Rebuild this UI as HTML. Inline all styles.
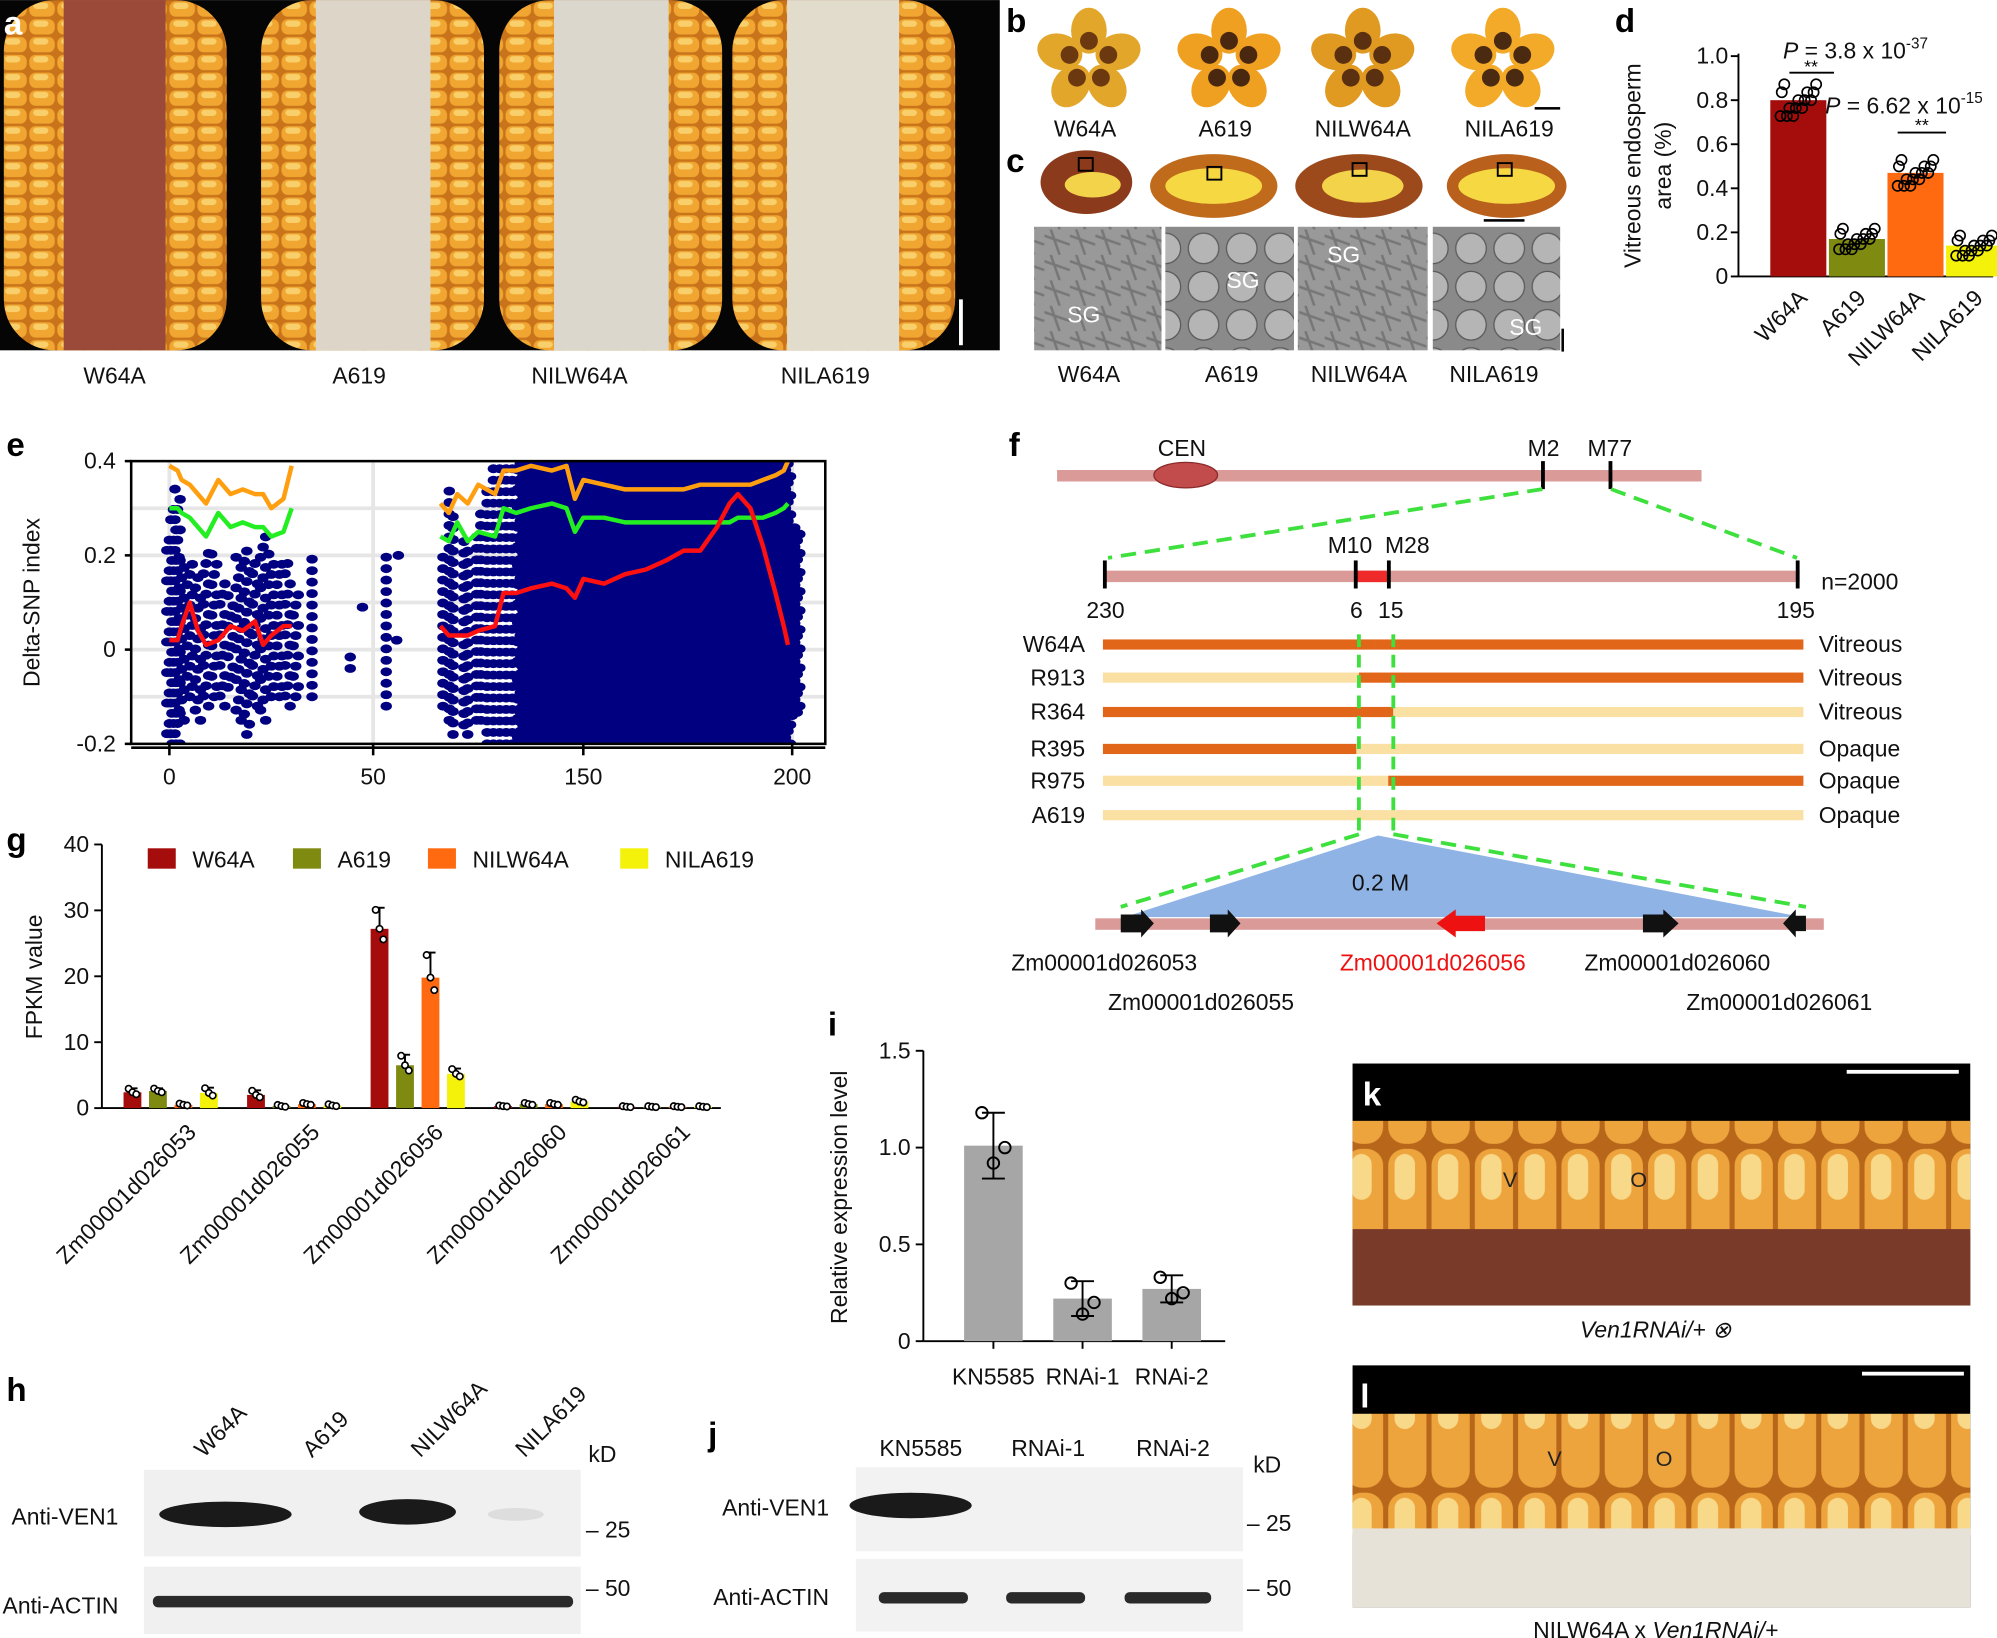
<!DOCTYPE html>
<html><head><meta charset="utf-8">
<style>
html,body{margin:0;padding:0;background:#fff;}
svg{display:block;font-family:"Liberation Sans",Arial,sans-serif;}
.lbl{font-size:18px;fill:#111;}
.pl{font-size:26px;font-weight:bold;fill:#000;}
</style></head>
<body>
<svg id="fig" width="1997" height="1638" viewBox="0 0 1568 1286" xmlns="http://www.w3.org/2000/svg">
<defs>
<pattern id="kern" width="22" height="14" patternUnits="userSpaceOnUse">
<rect width="22" height="14" fill="#c9741a"/><rect x="1" y="1" width="20" height="12" rx="5" fill="#f0a630"/><rect x="4" y="2" width="12" height="5" rx="3" fill="#f8cf6a"/></pattern>
<pattern id="kern2" width="34" height="90" patternUnits="userSpaceOnUse">
<rect width="34" height="90" fill="#b8661a"/><rect x="2" y="2" width="30" height="86" rx="13" fill="#eea43c"/><rect x="7" y="6" width="16" height="36" rx="8" fill="#f8d98a"/></pattern>
<pattern id="sem" width="30" height="30" patternUnits="userSpaceOnUse"><rect width="30" height="30" fill="#8a8a8a"/><circle cx="15" cy="15" r="12" fill="#b5b5b5" stroke="#5a5a5a"/></pattern>
<pattern id="sem2" width="20" height="20" patternUnits="userSpaceOnUse"><rect width="20" height="20" fill="#999"/><path d="M0 5 L20 12 M5 0 L12 20" stroke="#777" stroke-width="2"/></pattern>
</defs>

<!-- Panel a -->
<g>
<rect x="0" y="0" width="785" height="275" fill="#050505"/>
<rect x="3" y="0" width="175" height="275" rx="40" fill="url(#kern)"/>
<rect x="50" y="0" width="80" height="275" fill="#9b4a3a"/>
<rect x="205" y="0" width="175" height="275" rx="40" fill="url(#kern)"/>
<rect x="248" y="0" width="90" height="275" fill="#ddd6c8"/>
<rect x="392" y="0" width="175" height="275" rx="40" fill="url(#kern)"/>
<rect x="435" y="0" width="90" height="275" fill="#dcd7cc"/>
<rect x="575" y="0" width="175" height="275" rx="40" fill="url(#kern)"/>
<rect x="618" y="0" width="88" height="275" fill="#e2dccd"/>
<rect x="753" y="235" width="3" height="36" fill="#fff"/>
<text x="3" y="27" class="pl" style="fill:#fff">a</text>
</g>
<g class="lbl">
<text x="90" y="301" text-anchor="middle" class="lbl">W64A</text>
<text x="282" y="301" text-anchor="middle" class="lbl">A619</text>
<text x="455" y="301" text-anchor="middle" class="lbl">NILW64A</text>
<text x="648" y="301" text-anchor="middle" class="lbl">NILA619</text>
</g>

<!-- Panel b -->
<g>
<text x="790" y="25" class="pl">b</text>
<g id="kernels"></g>
<rect x="1205" y="84" width="20" height="2" fill="#000"/>
<text x="852" y="107" text-anchor="middle" class="lbl">W64A</text>
<text x="962" y="107" text-anchor="middle" class="lbl">A619</text>
<text x="1070" y="107" text-anchor="middle" class="lbl">NILW64A</text>
<text x="1185" y="107" text-anchor="middle" class="lbl">NILA619</text>
</g>

<!-- Panel c -->
<g>
<text x="790" y="135" class="pl">c</text>
<ellipse cx="853" cy="143" rx="36" ry="25" fill="#8b3a1c"/><ellipse cx="858" cy="145" rx="22" ry="10" fill="#f3d34a"/>
<ellipse cx="953" cy="146" rx="50" ry="25" fill="#c06a1c"/><ellipse cx="953" cy="146" rx="38" ry="14" fill="#f6d843"/>
<ellipse cx="1067" cy="146" rx="50" ry="25" fill="#9c4a1c"/><ellipse cx="1070" cy="146" rx="32" ry="13" fill="#f3d34a"/>
<ellipse cx="1183" cy="146" rx="47" ry="25" fill="#b8601c"/><ellipse cx="1183" cy="146" rx="38" ry="14" fill="#f6d843"/>
<rect x="847" y="124" width="11" height="10" fill="none" stroke="#000" stroke-width="1.5"/>
<rect x="948" y="131" width="11" height="10" fill="none" stroke="#000" stroke-width="1.5"/>
<rect x="1062" y="128" width="11" height="10" fill="none" stroke="#000" stroke-width="1.5"/>
<rect x="1176" y="128" width="11" height="10" fill="none" stroke="#000" stroke-width="1.5"/>
<rect x="1165" y="172" width="32" height="2" fill="#000"/>
<rect x="812" y="178" width="100" height="97" fill="url(#sem2)"/>
<rect x="915" y="178" width="101" height="97" fill="url(#sem)"/>
<rect x="1019" y="178" width="102" height="97" fill="url(#sem2)"/>
<rect x="1125" y="178" width="100" height="97" fill="url(#sem)"/>
<rect x="1226" y="258" width="2" height="18" fill="#000"/>
<text x="838" y="253" fill="#fff" font-size="18">SG</text>
<text x="963" y="226" fill="#fff" font-size="18">SG</text>
<text x="1042" y="206" fill="#fff" font-size="18">SG</text>
<text x="1185" y="263" fill="#fff" font-size="18">SG</text>
<text x="855" y="300" text-anchor="middle" class="lbl">W64A</text>
<text x="967" y="300" text-anchor="middle" class="lbl">A619</text>
<text x="1067" y="300" text-anchor="middle" class="lbl">NILW64A</text>
<text x="1173" y="300" text-anchor="middle" class="lbl">NILA619</text>
</g>

<!-- Panel d -->
<g id="panelD">
<text x="1268" y="25" class="pl">d</text>
<text transform="translate(1288,130) rotate(-90)" text-anchor="middle" class="lbl">Vitreous endosperm</text>
<text transform="translate(1312,130) rotate(-90)" text-anchor="middle" class="lbl">area (%)</text>
</g>

<!-- Panel e -->
<g id="panelE">
<text x="5" y="358" class="pl">e</text>
<text transform="translate(31,473) rotate(-90)" text-anchor="middle" class="lbl">Delta-SNP index</text>
</g>

<!-- Panel f -->
<g>
<text x="792" y="358" class="pl">f</text>
<rect x="830" y="369" width="506" height="9" fill="#d99a98"/>
<ellipse cx="931" cy="373" rx="25" ry="10" fill="#c24b4b" stroke="#8a2a2a"/>
<text x="928" y="358" text-anchor="middle" class="lbl">CEN</text>
<rect x="1210" y="362" width="3" height="22" fill="#000"/><text x="1212" y="358" text-anchor="middle" class="lbl">M2</text>
<rect x="1263" y="362" width="3" height="22" fill="#000"/><text x="1264" y="358" text-anchor="middle" class="lbl">M77</text>
<line x1="1211" y1="384" x2="870" y2="438" stroke="#3ee03e" stroke-width="3" stroke-dasharray="12,7"/>
<line x1="1265" y1="384" x2="1411" y2="438" stroke="#3ee03e" stroke-width="3" stroke-dasharray="12,7"/>
<rect x="868" y="448" width="545" height="9" fill="#d99a98"/>
<rect x="1065" y="448" width="26" height="9" fill="#ee2a2a"/>
<rect x="866" y="440" width="3" height="22" fill="#000"/><rect x="1063" y="440" width="3" height="22" fill="#000"/>
<rect x="1089" y="440" width="3" height="22" fill="#000"/><rect x="1410" y="440" width="3" height="22" fill="#000"/>
<text x="1060" y="434" text-anchor="middle" class="lbl">M10</text><text x="1105" y="434" text-anchor="middle" class="lbl">M28</text>
<text x="868" y="485" text-anchor="middle" class="lbl">230</text><text x="1065" y="485" text-anchor="middle" class="lbl">6</text>
<text x="1092" y="485" text-anchor="middle" class="lbl">15</text><text x="1410" y="485" text-anchor="middle" class="lbl">195</text>
<text x="1430" y="463" class="lbl">n=2000</text>
<g id="haplo"></g>
<line x1="1067" y1="498" x2="1067" y2="655" stroke="#3ee03e" stroke-width="3" stroke-dasharray="10,6"/>
<line x1="1094" y1="498" x2="1094" y2="655" stroke="#3ee03e" stroke-width="3" stroke-dasharray="10,6"/>
<line x1="1067" y1="655" x2="880" y2="712" stroke="#3ee03e" stroke-width="3" stroke-dasharray="12,7"/>
<line x1="1094" y1="655" x2="1418" y2="712" stroke="#3ee03e" stroke-width="3" stroke-dasharray="12,7"/>
<polygon points="883,720 1082,656 1415,720" fill="#8fb3e4"/>
<text x="1084" y="699" text-anchor="middle" class="lbl">0.2 M</text>
<rect x="860" y="721" width="572" height="9" fill="#d99a98"/>
<polygon points="880,718 896,718 896,714 906,725 896,736 896,732 880,732" fill="#111"/>
<polygon points="950,718 964,718 964,714 974,725 964,736 964,732 950,732" fill="#111"/>
<polygon points="1166,719 1143,719 1143,714 1128,725 1143,736 1143,731 1166,731" fill="#ee1111"/>
<polygon points="1290,718 1306,718 1306,714 1318,725 1306,736 1306,732 1290,732" fill="#111"/>
<polygon points="1418,719 1410,719 1410,714 1400,725 1410,736 1410,731 1418,731" fill="#111"/>
<text x="867" y="762" text-anchor="middle" class="lbl">Zm00001d026053</text>
<text x="1125" y="762" text-anchor="middle" class="lbl" style="fill:#ee1111">Zm00001d026056</text>
<text x="1317" y="762" text-anchor="middle" class="lbl">Zm00001d026060</text>
<text x="943" y="793" text-anchor="middle" class="lbl">Zm00001d026055</text>
<text x="1397" y="793" text-anchor="middle" class="lbl">Zm00001d026061</text>
</g>

<!-- Panel g -->
<g id="panelG">
<text x="5" y="668" class="pl">g</text>
<text transform="translate(33,767) rotate(-90)" text-anchor="middle" class="lbl">FPKM value</text>
</g>

<!-- Panel h -->
<g>
<text x="5" y="1100" class="pl">h</text>
<text transform="translate(160,1145) rotate(-45)" class="lbl">W64A</text>
<text transform="translate(245,1145) rotate(-45)" class="lbl">A619</text>
<text transform="translate(330,1145) rotate(-45)" class="lbl">NILW64A</text>
<text transform="translate(412,1145) rotate(-45)" class="lbl">NILA619</text>
<text x="462" y="1148" class="lbl">kD</text>
<rect x="113" y="1154" width="343" height="68" fill="#f0f0f0"/>
<ellipse cx="177" cy="1189" rx="52" ry="10" fill="#1a1a1a"/>
<ellipse cx="320" cy="1187" rx="38" ry="10" fill="#1a1a1a"/>
<ellipse cx="405" cy="1189" rx="22" ry="5" fill="#ddd"/>
<text x="9" y="1197" class="lbl">Anti-VEN1</text>
<text x="460" y="1207" class="lbl">– 25</text>
<text x="460" y="1253" class="lbl">– 50</text>
<rect x="113" y="1230" width="343" height="53" fill="#f0f0f0"/>
<rect x="120" y="1253" width="330" height="9" rx="4" fill="#2a2a2a"/>
<text x="2" y="1267" class="lbl">Anti-ACTIN</text>
</g>

<!-- Panel i -->
<g id="panelI">
<text x="650" y="813" class="pl">i</text>
<text transform="translate(665,940) rotate(-90)" text-anchor="middle" class="lbl">Relative expression level</text>
</g>

<!-- Panel j -->
<g>
<text x="556" y="1135" class="pl">j</text>
<text x="723" y="1143" text-anchor="middle" class="lbl">KN5585</text>
<text x="823" y="1143" text-anchor="middle" class="lbl">RNAi-1</text>
<text x="921" y="1143" text-anchor="middle" class="lbl">RNAi-2</text>
<text x="984" y="1156" class="lbl">kD</text>
<rect x="672" y="1152" width="304" height="66" fill="#f2f2f2"/>
<ellipse cx="715" cy="1182" rx="48" ry="10" fill="#1a1a1a"/>
<text x="567" y="1190" class="lbl">Anti-VEN1</text>
<text x="979" y="1202" class="lbl">– 25</text>
<text x="979" y="1253" class="lbl">– 50</text>
<rect x="672" y="1224" width="304" height="57" fill="#f2f2f2"/>
<rect x="690" y="1250" width="70" height="9" rx="4" fill="#2a2a2a"/>
<rect x="790" y="1250" width="62" height="9" rx="4" fill="#2a2a2a"/>
<rect x="883" y="1250" width="68" height="9" rx="4" fill="#2a2a2a"/>
<text x="560" y="1260" class="lbl">Anti-ACTIN</text>
</g>

<!-- Panel k -->
<g>
<rect x="1062" y="835" width="485" height="190" fill="#000"/>
<rect x="1062" y="880" width="485" height="90" fill="url(#kern2)"/>
<rect x="1062" y="965" width="485" height="60" fill="#7a3a2a"/>
<rect x="1450" y="840" width="88" height="3" fill="#fff"/>
<text x="1070" y="868" class="pl" style="fill:#fff">k</text>
<text x="1180" y="932" font-size="17" fill="#222">V</text>
<text x="1280" y="932" font-size="17" fill="#222">O</text>
<text x="1300" y="1050" text-anchor="middle" class="lbl" font-style="italic">Ven1RNAi/+ ⊗</text>
</g>
<!-- Panel l -->
<g>
<rect x="1062" y="1072" width="485" height="190" fill="#000"/>
<rect x="1062" y="1110" width="485" height="95" fill="url(#kern2)"/>
<rect x="1062" y="1200" width="485" height="62" fill="#e6e2d8"/>
<rect x="1462" y="1077" width="80" height="3" fill="#fff"/>
<text x="1068" y="1105" class="pl" style="fill:#fff">l</text>
<text x="1215" y="1151" font-size="17" fill="#222">V</text>
<text x="1300" y="1151" font-size="17" fill="#222">O</text>
<text x="1300" y="1286" text-anchor="middle" class="lbl">NILW64A x <tspan font-style="italic">Ven1RNAi/+</tspan></text>
</g>
</svg>

<script>
const NS="http://www.w3.org/2000/svg";
function el(tag,attrs,parent,text){const e=document.createElementNS(NS,tag);for(const k in attrs)e.setAttribute(k,attrs[k]);if(text!==undefined)e.textContent=text;parent.appendChild(e);return e;}

/* ---- Panel d data ---- */
const dCats=["W64A","A619","NILW64A","NILA619"];
const dVals=[0.80,0.17,0.47,0.14];
const dColors=["#a50d0d","#7f8a10","#ff6a10","#f4f20a"];
const dTicks=[0,0.2,0.4,0.6,0.8,1.0];
const dTickLbl=["0","0.2","0.4","0.6","0.8","1.0"];

/* ---- Panel e data ---- */
const eTickVals=[0,50,150,200];
const eTickPos=[133,293,458,622];
const eYTicks=[-0.2,0,0.2,0.4];
const eYTickLbl=["-0.2","0","0.2","0.4"];
const dotX=[0,1,2,3,5,7,9,11,13,15,17,19,21,23,25,27,29,31,35,45,48,55,60,62,82,85,88,92,95,98,100,103,106,109,112,115,118,120,122,124,126,128,130,132,134,136,138,140,143,146,150,152,155,158,161,164,167,170,173,176,179,182,185,188,191,194,197,199,200];
const dotLo=[-0.2,-0.2,-0.2,-0.15,-0.1,-0.15,-0.12,-0.1,-0.12,-0.08,-0.15,-0.18,-0.12,-0.15,-0.1,-0.1,-0.12,-0.1,-0.1,-0.04,0.09,-0.12,0.02,0.2,-0.12,-0.15,-0.18,-0.16,-0.18,-0.15,-0.15,-0.2,-0.2,-0.2,-0.2,-0.2,-0.2,-0.2,-0.2,-0.2,-0.2,-0.2,-0.2,-0.2,-0.2,-0.2,-0.2,-0.2,-0.2,-0.2,-0.2,-0.2,-0.2,-0.2,-0.2,-0.2,-0.2,-0.2,-0.2,-0.2,-0.2,-0.2,-0.2,-0.2,-0.2,-0.2,-0.2,-0.2,-0.14];
const dotHi=[0.24,0.3,0.35,0.2,0.18,0.15,0.22,0.2,0.15,0.12,0.2,0.22,0.2,0.25,0.22,0.18,0.2,0.12,0.2,0.0,0.09,0.2,0.02,0.22,0.2,0.35,0.28,0.25,0.22,0.25,0.3,0.34,0.4,0.4,0.4,0.4,0.4,0.4,0.4,0.38,0.4,0.4,0.4,0.4,0.38,0.4,0.4,0.4,0.4,0.4,0.4,0.4,0.4,0.4,0.4,0.4,0.4,0.4,0.4,0.4,0.4,0.4,0.4,0.4,0.4,0.4,0.4,0.4,0.26];
const lineX=[0,2,3,5,7,9,12,15,18,21,23,25,28,30,null,82,86,90,95,100,108,112,118,125,135,142,146,150,155,160,165,170,174,178,182,185,187,190,193,196,198,199];
const orangeY=[0.39,0.38,0.36,0.35,0.33,0.31,0.36,0.33,0.34,0.33,0.33,0.30,0.32,0.39,null,0.31,0.29,0.33,0.31,0.35,0.33,0.38,0.38,0.39,0.38,0.39,0.32,0.36,0.35,0.34,0.34,0.34,0.34,0.35,0.35,0.35,0.35,0.35,0.36,0.37,0.38,0.40];
const greenY=[0.30,0.30,0.29,0.28,0.26,0.24,0.29,0.26,0.27,0.26,0.26,0.24,0.25,0.30,null,0.24,0.23,0.27,0.23,0.25,0.24,0.30,0.29,0.30,0.31,0.30,0.25,0.28,0.28,0.27,0.27,0.27,0.27,0.27,0.27,0.27,0.28,0.28,0.28,0.29,0.30,0.31];
const redY=[0.02,0.02,0.05,0.10,0.04,0.01,0.02,0.05,0.04,0.06,0.01,0.03,0.05,0.05,null,0.05,0.03,0.03,0.03,0.04,0.05,0.12,0.12,0.13,0.14,0.13,0.11,0.15,0.14,0.16,0.17,0.19,0.21,0.21,0.26,0.31,0.33,0.30,0.22,0.12,0.05,0.01];

/* ---- Panel f haplotypes ---- */
const hapNames=["W64A","R913","R364","R395","R975","A619"];
const hapPheno=["Vitreous","Vitreous","Vitreous","Opaque","Opaque","Opaque"];
const hapBreak=[null,1067,1094,1065,1090,null];
const hapLeftDark=[true,false,true,true,false,false];
const hapRightDark=[true,true,false,false,true,false];

/* ---- Panel g data ---- */
const gCats=["Zm00001d026053","Zm00001d026055","Zm00001d026056","Zm00001d026060","Zm00001d026061"];
const gSeries=["W64A","A619","NILW64A","NILA619"];
const gW64A=[2.4,2.0,27.2,0.3,0.2];
const gA619=[2.6,0.3,6.5,0.6,0.2];
const gNILW=[0.5,0.6,19.8,0.6,0.2];
const gNILA=[2.3,0.4,5.2,1.0,0.2];
const gErr=[[0.6,0.7,3.2,0.1,0.1],[0.4,0.2,1.6,0.2,0.1],[0.2,0.2,3.8,0.2,0.1],[0.8,0.2,0.8,0.3,0.1]];
const gTicks=[0,10,20,30,40];

/* ---- Panel i data ---- */
const iCats=["KN5585","RNAi-1","RNAi-2"];
const iVals=[1.01,0.22,0.27];
const iErr=[0.17,0.09,0.07];
const iPts=[[1.18,0.92,1.0],[0.3,0.14,0.2],[0.33,0.22,0.25]];
const iTicks=[0,0.5,1.0,1.5];
const iTickLbl=["0","0.5","1.0","1.5"];

/* kernels b */
(function(){
 const g=document.getElementById("kernels");
 const cx=[855,965,1070,1180];
 const cols=[["#e2a62a","#6b3810"],["#f0a020","#4a2810"],["#e09a22","#5a3010"],["#f2aa28","#4a2a10"]];
 const ang=[0,72,144,216,288];
 cx.forEach((x,i)=>{ang.forEach(a=>{const r=a*Math.PI/180;const k=el("ellipse",{cx:x+24*Math.sin(r),cy:48-24*Math.cos(r),rx:14,ry:18,fill:cols[i][0],transform:`rotate(${a},${x+24*Math.sin(r)},${48-24*Math.cos(r)})`},g);
 
 
 el("ellipse",{cx:x+16*Math.sin(r),cy:48-16*Math.cos(r),rx:7,ry:7,fill:cols[i][1]},g);});});
})();

/* Panel d */
(function(){
 const g=document.getElementById("panelD");
 const x0=1365,y0=217,yTop=44;const ys=v=>y0-(v/1.0)*(y0-yTop);
 el("line",{x1:x0,y1:yTop-2,x2:x0,y2:y0,stroke:"#000","stroke-width":1.5},g);
 el("line",{x1:x0,y1:y0,x2:1565,y2:y0,stroke:"#000","stroke-width":1.5},g);
 dTicks.forEach((t,i)=>{el("line",{x1:x0-6,y1:ys(t),x2:x0,y2:ys(t),stroke:"#000","stroke-width":1.5},g);
  el("text",{x:x0-8,y:ys(t)+6,"text-anchor":"end",class:"lbl"},g,dTickLbl[i]);});
 const bw=44,gap=2,start=1390;
 dCats.forEach((c,i)=>{const bx=start+i*(bw+gap);
  const b=el("rect",{x:bx,y:ys(dVals[i]),width:bw,height:y0-ys(dVals[i]),fill:dColors[i]},g);
  
  
  for(let k=0;k<14;k++){const v=dVals[i]+((k%5)-2)*0.02*(1+dVals[i]);el("circle",{cx:bx+8+(k*7)%30,cy:ys(v),r:4,fill:"none",stroke:"#000","stroke-width":1.3},g);}
  const t=el("text",{transform:`translate(${bx+bw/2+8},${y0+18}) rotate(-45)`,"text-anchor":"end",class:"lbl"},g,c);
  
  
 });
 el("line",{x1:1405,y1:57,x2:1440,y2:57,stroke:"#000","stroke-width":1.5},g);
 el("text",{x:1422,y:57,"text-anchor":"middle","font-size":"14",fill:"#000"},g,"**");
 el("line",{x1:1490,y1:104,x2:1528,y2:104,stroke:"#000","stroke-width":1.5},g);
 el("text",{x:1509,y:103,"text-anchor":"middle","font-size":"14",fill:"#000"},g,"**");
 const p1=el("text",{x:1400,y:46,class:"lbl"},g);p1.innerHTML='<tspan font-style="italic">P</tspan> = 3.8 x 10<tspan dy="-8" font-size="12">-37</tspan>';
 const p2=el("text",{x:1433,y:89,class:"lbl"},g);p2.innerHTML='<tspan font-style="italic">P</tspan> = 6.62 x 10<tspan dy="-8" font-size="12">-15</tspan>';
})();

/* Panel e */
(function(){
 const g=document.getElementById("panelE");
 const L=103,R=648,T=362,B=584;
 const xs=v=>{for(let i=0;i<eTickVals.length-1;i++){if(v<=eTickVals[i+1]||i==eTickVals.length-2){return eTickPos[i]+(v-eTickVals[i])/(eTickVals[i+1]-eTickVals[i])*(eTickPos[i+1]-eTickPos[i]);}}};
 const ys=v=>B-(v+0.2)/0.6*(B-T);
 el("rect",{x:L,y:T,width:R-L,height:B-T,fill:"#fff"},g);
 [133,293,458,622].forEach(x=>el("line",{x1:x,y1:T,x2:x,y2:B,stroke:"#e6e6e6","stroke-width":3},g));
 [-0.1,0,0.1,0.2,0.3].forEach(v=>el("line",{x1:L,y1:ys(v),x2:R,y2:ys(v),stroke:"#e6e6e6","stroke-width":3},g));
 const cl=document.createElementNS(NS,"clipPath");cl.id="eclip";el("rect",{x:L,y:T,width:R-L,height:B-T},cl);g.appendChild(cl);
 const dg=el("g",{"clip-path":"url(#eclip)",fill:"#000080"},g);
 dotX.forEach((x,i)=>{
  const xx=xs(x);
  const yb=ys(dotLo[i]),yt=ys(dotHi[i]);
  const dense=x>=120;
  const nx=i<dotX.length-1?xs(dotX[i+1]):xx+4;
  const step=dense?5:(x<35?8:9);
  const xstep=dense?4:7;
  const xend=dense?nx:xx+1;
  let col=0;
  for(let cx=xx;cx<=xend;cx+=xstep){
   for(let cy=yb-(col%2)*step/2;cy>=yt-1;cy-=step){
    const d=el("ellipse",{cx:cx+((Math.round(cy)%3)-1)*2,cy:cy,rx:4.5,ry:3.5},dg);
   }
   col++;
  }
 });
 function line(vals,color){let d="";let mv=true;lineX.forEach((x,i)=>{if(x===null||vals[i]===null){mv=true;return;}d+=(mv?"M":"L")+xs(x).toFixed(1)+" "+ys(vals[i]).toFixed(1)+" ";mv=false;});
  return el("path",{d:d,fill:"none",stroke:color,"stroke-width":3.5,"stroke-linejoin":"round"},dg);}
 let p=line(orangeY,"#ff9f10");
 p=line(greenY,"#22ee22");
 p=line(redY,"#ff1010");
 el("rect",{x:L,y:T,width:R-L,height:B-T,fill:"none",stroke:"#000","stroke-width":2},g);
 eYTicks.forEach((t,i)=>{el("line",{x1:L-5,y1:ys(t),x2:L,y2:ys(t),stroke:"#000","stroke-width":2},g);
  el("text",{x:L-12,y:ys(t)+6,"text-anchor":"end",class:"lbl"},g,eYTickLbl[i]);});
 el("line",{x1:L,y1:B+3,x2:R,y2:B+3,stroke:"#000","stroke-width":2},g);
 eTickVals.forEach((t,i)=>{el("line",{x1:eTickPos[i],y1:B,x2:eTickPos[i],y2:B+9,stroke:"#000","stroke-width":2},g);
  el("text",{x:eTickPos[i],y:B+32,"text-anchor":"middle",class:"lbl"},g,String(t));});
})();

/* Panel f haplotypes */
(function(){
 const g=document.getElementById("haplo");
 const L=866,R=1416,dark="#e2661a",light="#fbe0a4";
 hapNames.forEach((n,i)=>{const y=[506,532,559,588,613,640][i];
  const br=hapBreak[i]||1080;
  el("rect",{x:L,y:y-4,width:br-L,height:8,fill:hapLeftDark[i]?dark:light},g);
  el("rect",{x:br,y:y-4,width:R-br,height:8,fill:hapRightDark[i]?dark:light},g);
  el("text",{x:852,y:y+6,"text-anchor":"end",class:"lbl"},g,n);
  el("text",{x:1428,y:y+6,class:"lbl"},g,hapPheno[i]);});
})();

/* Panel g */
(function(){
 const g=document.getElementById("panelG");
 const x0=80,y0=870,yT=663,xR=566;const ys=v=>y0-v/40*(y0-yT);
 const series=[gW64A,gA619,gNILW,gNILA];
 el("line",{x1:x0,y1:yT,x2:x0,y2:y0,stroke:"#000","stroke-width":1.5},g);
 el("line",{x1:x0,y1:y0,x2:xR,y2:y0,stroke:"#000","stroke-width":1.5},g);
 gTicks.forEach(t=>{el("line",{x1:x0-6,y1:ys(t),x2:x0,y2:ys(t),stroke:"#000","stroke-width":1.5},g);
  el("text",{x:x0-10,y:ys(t)+6,"text-anchor":"end",class:"lbl"},g,String(t));});
 const bw=14,gw=97;
 gCats.forEach((c,ci)=>{const gx=97+ci*gw;
  series.forEach((s,si)=>{const bx=gx+si*(bw+6);const v=s[ci];
   const b=el("rect",{x:bx,y:ys(v),width:bw,height:y0-ys(v),fill:dColors[si]},g);
   
   
   const e=gErr[si][ci];
   el("line",{x1:bx+bw/2,y1:ys(v),x2:bx+bw/2,y2:ys(v+e),stroke:"#000","stroke-width":1.5},g);
   el("line",{x1:bx+bw/2-4,y1:ys(v+e),x2:bx+bw/2+4,y2:ys(v+e),stroke:"#000","stroke-width":1.5},g);
   [v+e*0.9,v,v-e*0.5].forEach((pv,k)=>el("circle",{cx:bx+bw/2+(k-1)*3,cy:ys(Math.max(pv,0.15)),r:2.5,fill:"#fff",stroke:"#000","stroke-width":1.3},g));
  });
  el("text",{transform:`translate(${gx+58},${y0+20}) rotate(-45)`,"text-anchor":"end",class:"lbl"},g,c);
 });
 gSeries.forEach((s,si)=>{const lx=[116,230,336,487][si];
  const r=el("rect",{x:lx,y:666,width:22,height:16,fill:dColors[si]},g);
  
  
  el("text",{x:lx+35,y:681,class:"lbl"},g,s);});
})();

/* Panel i */
(function(){
 const g=document.getElementById("panelI");
 const x0=725,y0=1053,yT=825,xR=962;const ys=v=>y0-v/1.5*(y0-yT);
 el("line",{x1:x0,y1:yT,x2:x0,y2:y0,stroke:"#000","stroke-width":1.5},g);
 el("line",{x1:x0,y1:y0,x2:xR,y2:y0,stroke:"#000","stroke-width":1.5},g);
 iTicks.forEach((t,i)=>{el("line",{x1:x0-6,y1:ys(t),x2:x0,y2:ys(t),stroke:"#000","stroke-width":1.5},g);
  el("text",{x:x0-10,y:ys(t)+6,"text-anchor":"end",class:"lbl"},g,iTickLbl[i]);});
 iCats.forEach((c,i)=>{const cx=780+i*70;const v=iVals[i];
  const b=el("rect",{x:cx-23,y:ys(v),width:46,height:y0-ys(v),fill:"#a6a6a6"},g);
  
  
  el("line",{x1:cx,y1:ys(v-iErr[i]),x2:cx,y2:ys(v+iErr[i]),stroke:"#000","stroke-width":1.5},g);
  [v-iErr[i],v+iErr[i]].forEach(e=>el("line",{x1:cx-9,y1:ys(e),x2:cx+9,y2:ys(e),stroke:"#000","stroke-width":1.5},g));
  iPts[i].forEach((p,k)=>el("circle",{cx:cx+(k-1)*9,cy:ys(p),r:4.5,fill:"none",stroke:"#000","stroke-width":1.5},g));
  el("line",{x1:cx,y1:y0,x2:cx,y2:y0+6,stroke:"#000","stroke-width":1.5},g);
  el("text",{x:cx,y:y0+34,"text-anchor":"middle",class:"lbl"},g,c);});
})();
</script>
</body></html>
